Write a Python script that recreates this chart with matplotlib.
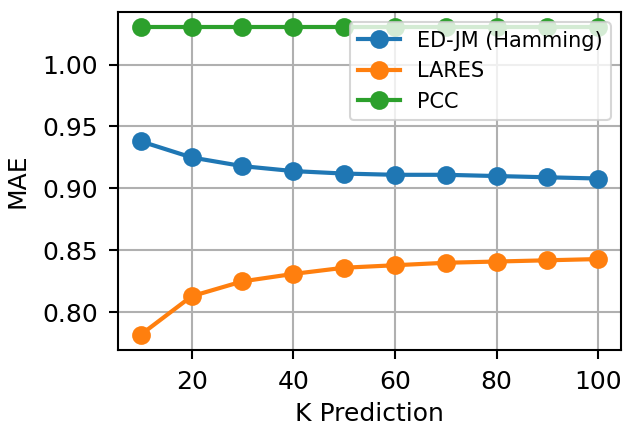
import matplotlib
matplotlib.use("Agg")
import matplotlib.pyplot as plt

k_values = [10, 20, 30, 40, 50, 60, 70, 80, 90, 100]
ed_jm = [0.938, 0.925, 0.918, 0.914, 0.912, 0.911, 0.911, 0.910, 0.909, 0.908]
lares = [0.782, 0.813, 0.825, 0.831, 0.836, 0.838, 0.840, 0.841, 0.842, 0.843]
pcc = [1.03] * 10
y_ticks = [0.80, 0.85, 0.90, 0.95, 1.00]

DPI = 150
fig = plt.figure(figsize=(624 / DPI, 428 / DPI), dpi=DPI)
ax = fig.add_axes([118 / 624, 1 - 350 / 428, (621 - 118) / 624, (350 - 12) / 428])
ax.plot(k_values, ed_jm, marker="o", markersize=8, linewidth=2, label="ED-JM (Hamming)")
ax.plot(k_values, lares, marker="o", markersize=8, linewidth=2, label="LARES")
ax.plot(k_values, pcc, marker="o", markersize=8, linewidth=2, label="PCC")
ax.set_yticks(y_ticks)
ax.set_yticklabels([f"{v:.2f}" for v in y_ticks])
ax.tick_params(labelsize=12, length=4.5, width=1, pad=5)
for s in ax.spines.values():
    s.set_linewidth(1)
ax.set_xlabel("K Prediction", fontsize=12)
ax.set_ylabel("MAE", fontsize=12, labelpad=6)
ax.grid(True, linewidth=1)
ax.legend(loc="upper right", fontsize=10)
fig.savefig("out.png", dpi=DPI)
